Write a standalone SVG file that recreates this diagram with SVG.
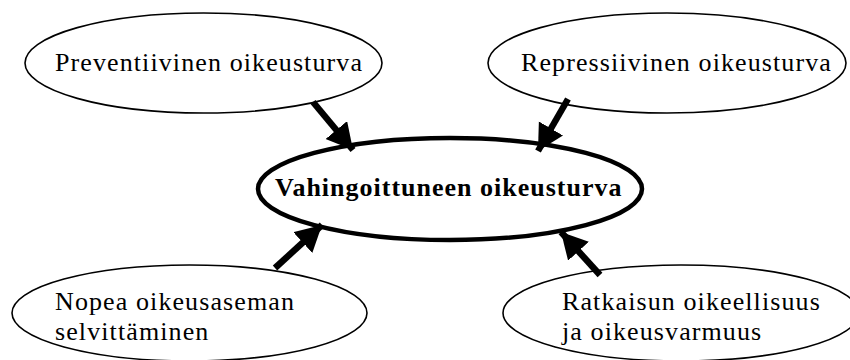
<svg xmlns="http://www.w3.org/2000/svg" width="850" height="360" viewBox="0 0 850 360">
<defs>
<marker id="ah" markerUnits="userSpaceOnUse" markerWidth="30" markerHeight="30" refX="26" refY="14" orient="auto">
<path d="M0,0 L26,14 L0,28 Z" fill="#000"/>
</marker>
<style>
.n{fill:#fff;stroke:#000;stroke-width:1.6}
.c{fill:#fff;stroke:#000;stroke-width:4.5}
.t{font-family:"Liberation Serif","Times New Roman",serif;font-size:26px;letter-spacing:1.1px;fill:#000}
.b{font-family:"Liberation Serif","Times New Roman",serif;font-size:26px;font-weight:bold;letter-spacing:1px;fill:#000}
.e{stroke:#000;stroke-width:6.5;fill:none;marker-end:url(#ah)}
</style>
</defs>
<rect width="850" height="360" fill="#fff"/>
<g id="n-preventiivinen">
<ellipse class="n" cx="203.5" cy="63" rx="178.5" ry="50"/>
<text class="t" x="55" y="71">Preventiivinen oikeusturva</text>
</g>
<g id="n-repressiivinen">
<ellipse class="n" cx="667" cy="63" rx="179" ry="50"/>
<text class="t" x="521" y="71">Repressiivinen oikeusturva</text>
</g>
<g id="n-nopea">
<ellipse class="n" cx="189.5" cy="313" rx="177.5" ry="48"/>
<text class="t" x="55" y="310">Nopea oikeusaseman</text>
<text class="t" x="55" y="340">selvittäminen</text>
</g>
<g id="n-ratkaisun">
<ellipse class="n" cx="681" cy="313" rx="178" ry="48"/>
<text class="t" x="562" y="310">Ratkaisun oikeellisuus</text>
<text class="t" x="562" y="340">ja oikeusvarmuus</text>
</g>
<g id="n-vahingoittuneen">
<ellipse class="c" cx="450" cy="189" rx="192" ry="51"/>
<text class="b" x="275" y="196">Vahingoittuneen oikeusturva</text>
</g>
<g id="connectors">
<line class="e" x1="313" y1="102" x2="353" y2="150"/>
<line class="e" x1="568" y1="99" x2="538" y2="151"/>
<line class="e" x1="275" y1="268" x2="322" y2="225"/>
<line class="e" x1="600" y1="275" x2="561" y2="232"/>
</g>
</svg>
